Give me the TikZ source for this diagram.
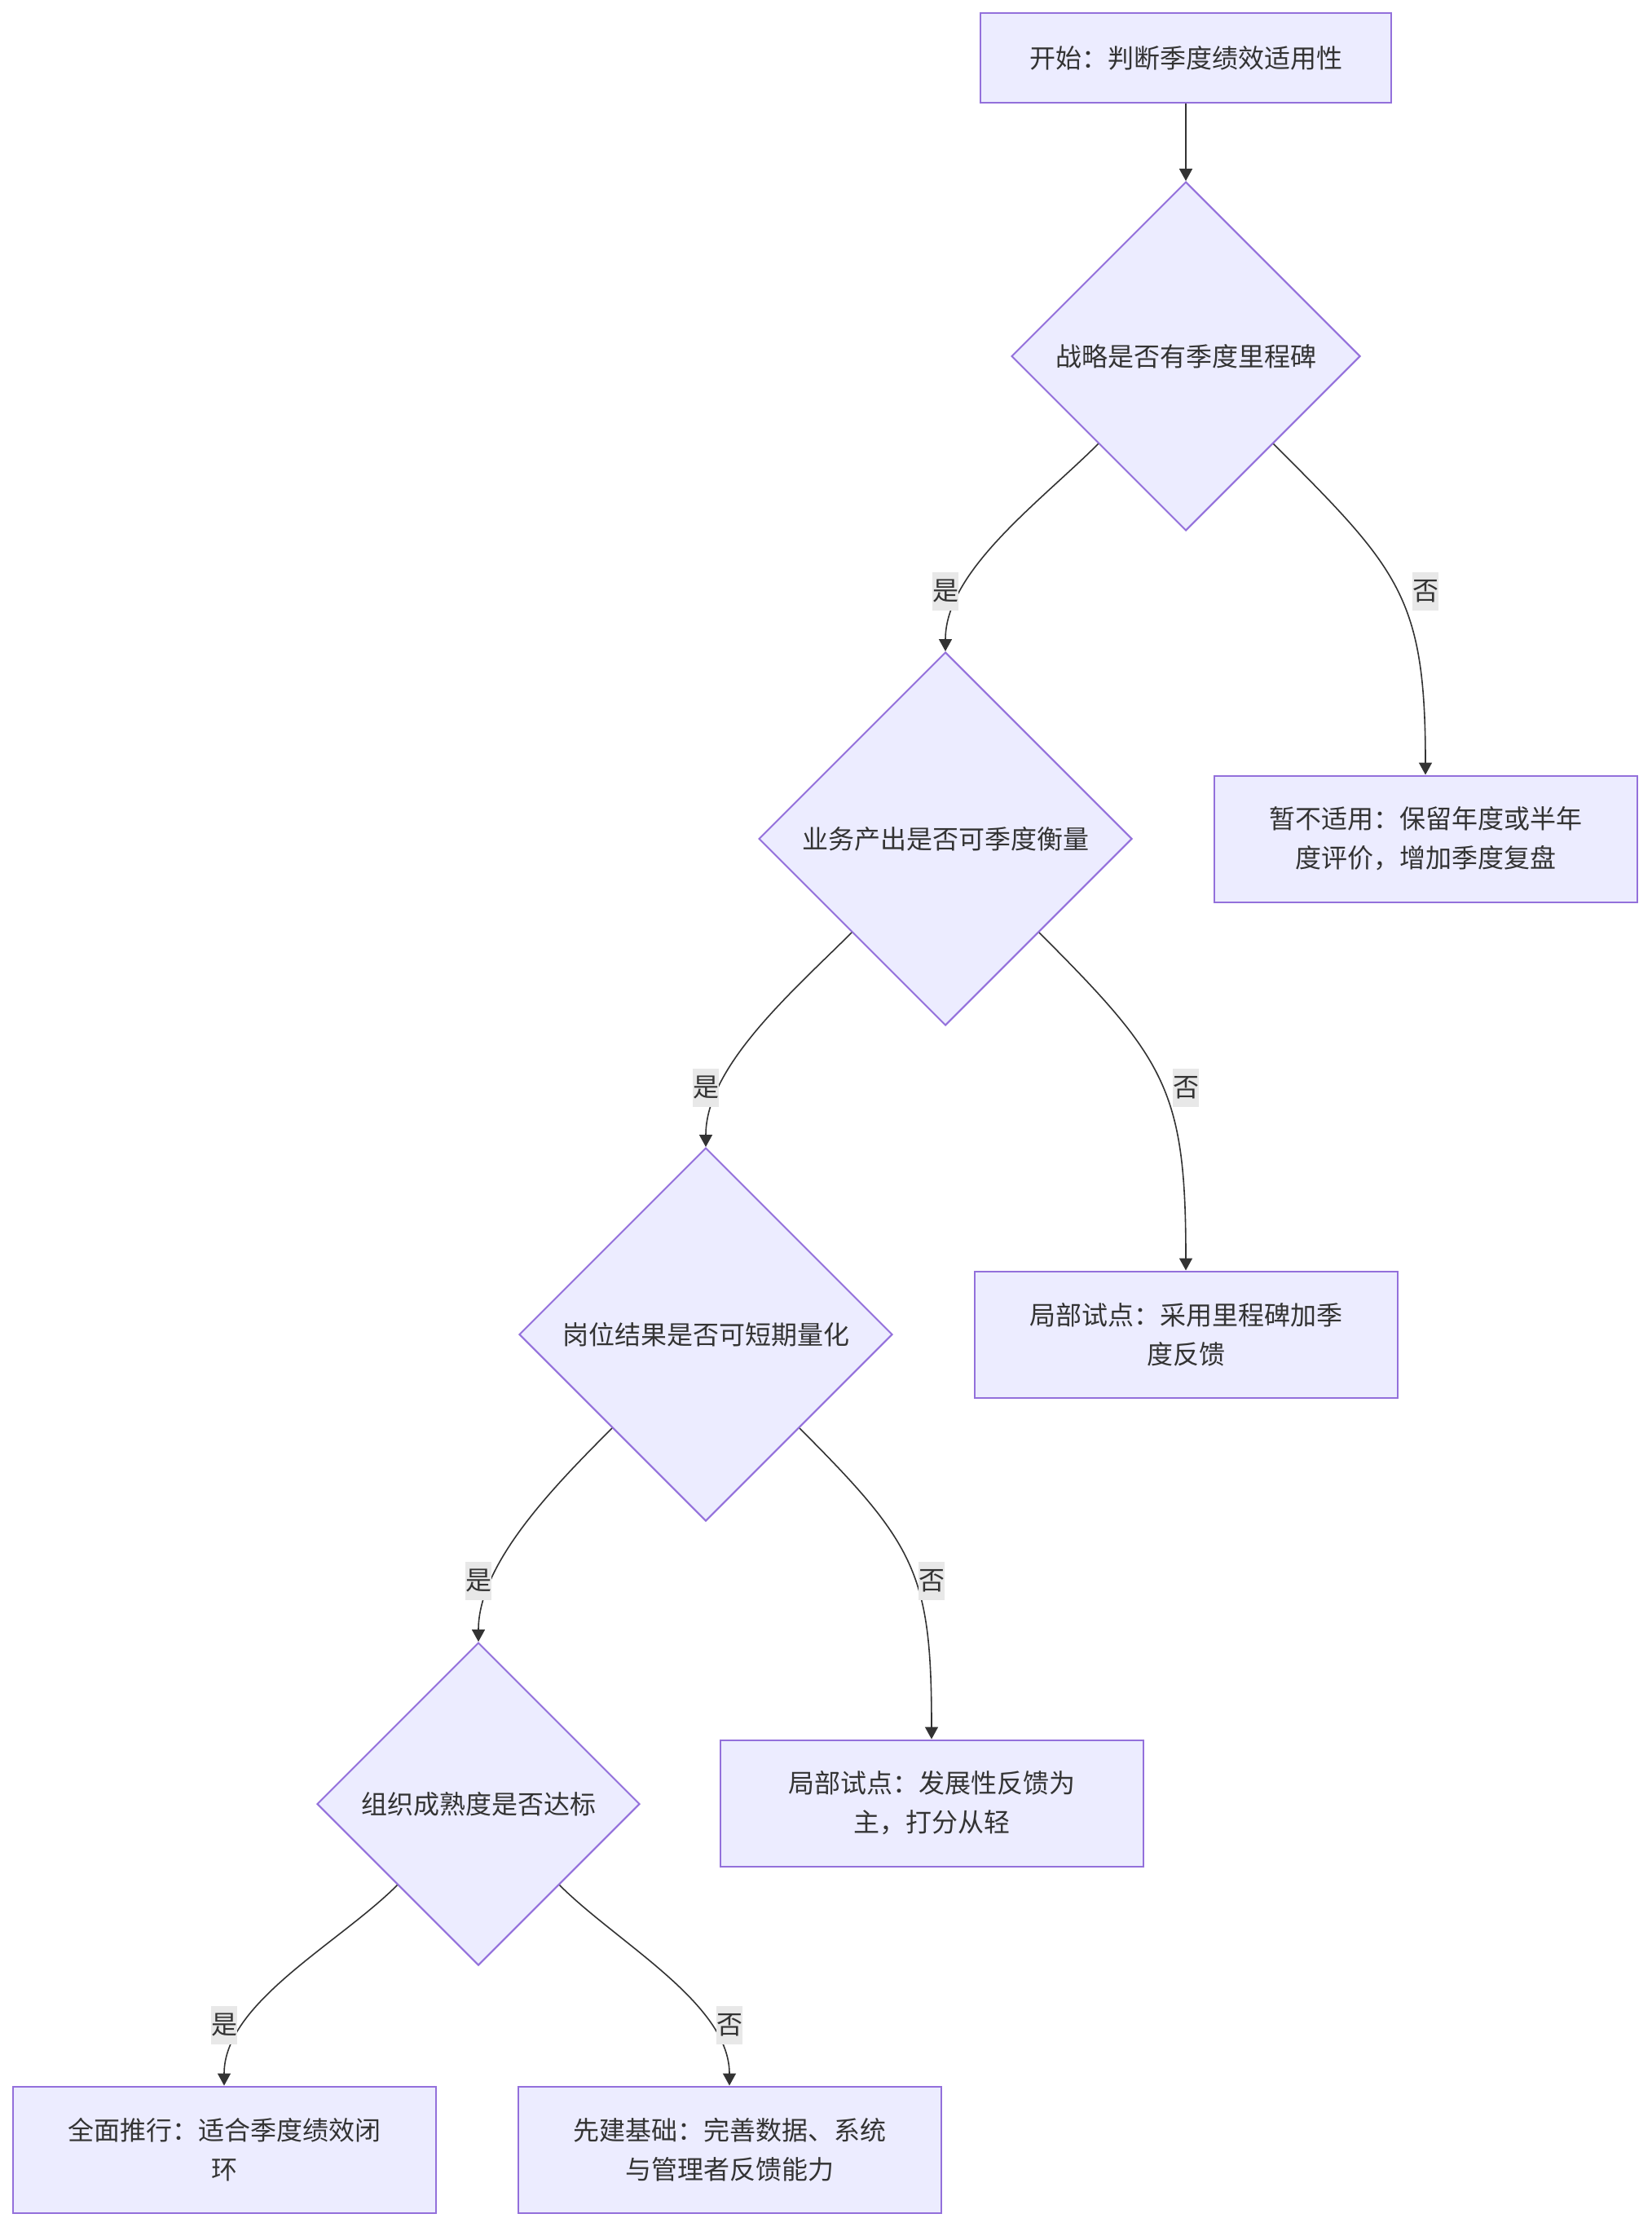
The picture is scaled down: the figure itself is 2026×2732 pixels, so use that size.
\documentclass[tikz,border=0pt]{standalone}
\usepackage{fontspec}
\setmainfont{Noto Sans CJK SC}
\usetikzlibrary{arrows.meta, positioning, shapes.geometric}
\definecolor{FlowFill}{HTML}{ECECFF}
\definecolor{FlowBorder}{HTML}{9370DB}
\definecolor{FlowText}{HTML}{333333}
\definecolor{FlowEdge}{HTML}{333333}
\definecolor{FlowLabelBg}{HTML}{E8E8E8}

\begin{document}
\begin{tikzpicture}[
    x=1pt, y=1pt,
    font=\fontsize{32}{48}\selectfont\color{FlowText},
    >={Triangle[length=15pt, width=16pt]},
    % Node Styles
    stepbox/.style={rectangle, fill=FlowFill, draw=FlowBorder, line width=2pt, minimum width=519pt, minimum height=155pt, align=center, text=FlowText},
    startbox/.style={stepbox, minimum width=504pt, minimum height=110pt},
    decision/.style={diamond, aspect=1, fill=FlowFill, draw=FlowBorder, line width=2pt, inner sep=0pt, text=FlowText},
    % Edge Styles
    flowline/.style={->, line width=1.6pt, FlowEdge},
    elabel/.style={fill=FlowLabelBg, inner xsep=0pt, inner ysep=0pt, minimum height=47pt, text=FlowText}
]
    \useasboundingbox (0,0) rectangle (2026,-2732);

    % ==========================================
    % LEVEL 1: Start & Strategy
    % ==========================================
    \node[startbox] (start) at (1455,-71) {开始：判断季度绩效适用性};
    \node[decision, minimum width=428pt, minimum height=428pt] (d1) at (1455,-437) {战略是否有季度里程碑};

    \draw[flowline] (start.south) -- (d1.north);

    % ==========================================
    % LEVEL 2: Business Output
    % ==========================================
    \node[decision, minimum width=458pt, minimum height=458pt] (d2) at (1160,-1029) {业务产出是否可季度衡量};
    \node[stepbox] (r1) at (1749,-1029) {暂不适用：保留年度或半年\\度评价，增加季度复盘};

    \draw[flowline] (d1.south west) to[out=-135, in=90, looseness=0.8] (d2.north)
        node[elabel] at (1160,-725) {是};
    \draw[flowline] (d1.south east) to[out=-45, in=90, looseness=1.25] (r1.north)
        node[elabel] at (1749,-725) {否};

    % ==========================================
    % LEVEL 3: Position Results
    % ==========================================
    \node[decision, minimum width=458pt, minimum height=458pt] (d3) at (866,-1637) {岗位结果是否可短期量化};
    \node[stepbox] (r2) at (1455,-1637) {局部试点：采用里程碑加季\\度反馈};

    \draw[flowline] (d2.south west) to[out=-135, in=90, looseness=0.8] (d3.north)
        node[elabel] at (866,-1334) {是};
    \draw[flowline] (d2.south east) to[out=-45, in=90, looseness=1.25] (r2.north)
        node[elabel] at (1455,-1334) {否};

    % ==========================================
    % LEVEL 4: Organisation Maturity
    % ==========================================
    \node[decision, minimum width=396pt, minimum height=396pt] (d4) at (587,-2213) {组织成熟度是否达标};
    \node[stepbox] (r3) at (1143,-2212) {局部试点：发展性反馈为\\主，打分从轻};

    \draw[flowline] (d3.south west) to[out=-135, in=90, looseness=0.8] (d4.north)
        node[elabel] at (587,-1939) {是};
    \draw[flowline] (d3.south east) to[out=-45, in=90, looseness=1.25] (r3.north)
        node[elabel] at (1143,-1939) {否};

    % ==========================================
    % LEVEL 5: Outcomes
    % ==========================================
    \node[stepbox] (r4) at (275,-2637) {全面推行：适合季度绩效闭\\环};
    \node[stepbox] (r5) at (895,-2637) {先建基础：完善数据、系统\\与管理者反馈能力};

    \draw[flowline] (d4.south west) to[out=-135, in=90, looseness=0.8] (r4.north)
        node[elabel] at (275,-2484) {是};
    \draw[flowline] (d4.south east) to[out=-45, in=90, looseness=0.8] (r5.north)
        node[elabel] at (895,-2484) {否};

\end{tikzpicture}
\end{document}
